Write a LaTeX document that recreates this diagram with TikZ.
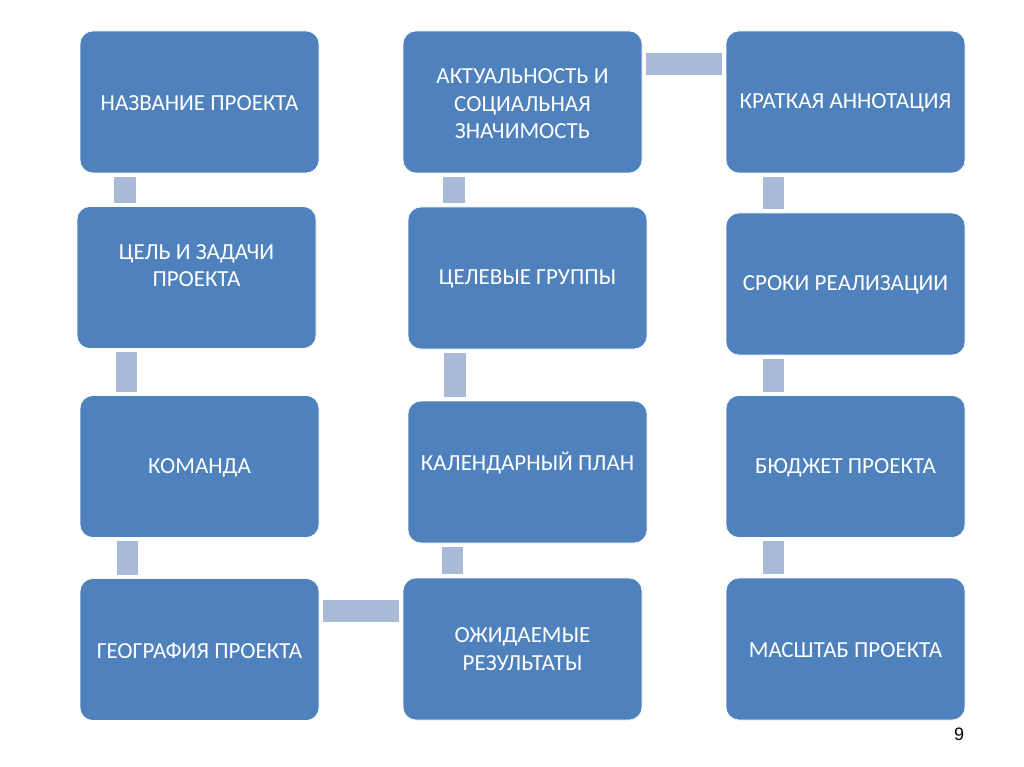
\documentclass[tikz,border=0pt]{standalone}
\usepackage{fontspec}
\setmainfont{Carlito}
\newfontfamily\numfont{Liberation Sans}
\definecolor{boxblue}{RGB}{79,129,189}
\definecolor{barblue}{RGB}{169,185,216}
\begin{document}
\begin{tikzpicture}[x=1pt,y=-1pt,
  box/.style={draw=white, line width=0.6pt, fill=boxblue, rounded corners=13pt,
    minimum width=239pt, minimum height=142pt, inner sep=0pt},
  txt/.style={text=white, align=center, font=\fontsize{23}{27.5}\selectfont},
  bar/.style={draw=barblue, line width=21.5pt, shorten <=3.5pt, shorten >=3.5pt}]
\fill[white] (0,0) rectangle (1024,767);
\useasboundingbox (0,0) rectangle (1024,767);
% column 1
\node[box] (a) at (199.5,102) {};
\node[box] (b) at (196.5,277.5) {};
\node[box] (c) at (199.5,466.5) {};
\node[box] (d) at (199.5,649.5) {};
% column 2
\node[box] (e) at (522.5,102) {};
\node[box] (f) at (527.5,278) {};
\node[box] (g) at (527.5,472) {};
\node[box] (h) at (522.5,649) {};
% column 3
\node[box] (i) at (845.5,102) {};
\node[box] (j) at (845.5,284) {};
\node[box] (k) at (845.5,466.5) {};
\node[box] (l) at (845.5,649) {};
% texts
\node[txt] (ta) at ([yshift=-1pt]a.center) {НАЗВАНИЕ ПРОЕКТА};
\node[txt] (tb) at ([yshift=12pt]b.center) {ЦЕЛЬ И ЗАДАЧИ\\ПРОЕКТА};
\node[txt] (tc) at ([yshift=-1pt]c.center) {КОМАНДА};
\node[txt] (td) at ([yshift=-1pt]d.center) {ГЕОГРАФИЯ ПРОЕКТА};
\node[txt] (te) at ([yshift=-2pt]e.center) {АКТУАЛЬНОСТЬ И\\СОЦИАЛЬНАЯ\\ЗНАЧИМОСТЬ};
\node[txt] (tf) at ([yshift=-1pt]f.center) {ЦЕЛЕВЫЕ ГРУППЫ};
\node[txt] (tg) at ([yshift=9pt]g.center) {КАЛЕНДАРНЫЙ ПЛАН};
\node[txt] (th) at (h.center) {ОЖИДАЕМЫЕ\\РЕЗУЛЬТАТЫ};
\node[txt] (ti) at ([yshift=-1pt]i.center) {КРАТКАЯ АННОТАЦИЯ};
\node[txt] (tj) at ([yshift=-1pt]j.center) {СРОКИ РЕАЛИЗАЦИИ};
\node[txt] (tk) at ([yshift=-1pt]k.center) {БЮДЖЕТ ПРОЕКТА};
\node[txt] (tl) at ([yshift=-1pt]l.center) {МАСШТАБ ПРОЕКТА};
% connectors
\draw[bar] (a.south -| 125,0) -- (b.north -| 125,0);
\draw[bar] (b.south -| 126.5,0) -- (c.north -| 126.5,0);
\draw[bar] (c.south -| 127.5,0) -- (d.north -| 127.5,0);
\draw[bar] (d.east |- 0,611) -- (h.west |- 0,611);
\draw[bar] (e.south -| 454,0) -- (f.north -| 454,0);
\draw[bar] (f.south -| 455,0) -- (g.north -| 455,0);
\draw[bar] (g.south -| 452.5,0) -- (h.north -| 452.5,0);
\draw[bar] (e.east |- 0,64) -- (i.west |- 0,64);
\draw[bar] (i.south -| 773.5,0) -- (j.north -| 773.5,0);
\draw[bar] (j.south -| 773.5,0) -- (k.north -| 773.5,0);
\draw[bar] (k.south -| 773.5,0) -- (l.north -| 773.5,0);
% page number
\node[font=\numfont\fontsize{18}{20}\selectfont, text=black] (pg) at (959,734) {9};
\end{tikzpicture}
\end{document}
